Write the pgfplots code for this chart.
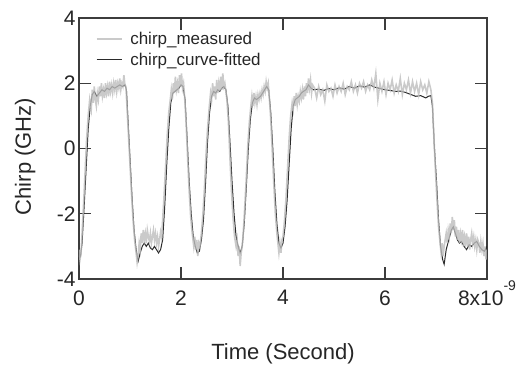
\documentclass[border=0pt]{standalone}
\usepackage{fontspec}
\setmainfont{Liberation Sans}
\usepackage{pgfplots}
\pgfplotsset{compat=1.18}
\definecolor{axgray}{HTML}{3C3C3C}
\definecolor{measgray}{HTML}{BDBDBD}
\definecolor{fitdark}{HTML}{2A2A2A}
\begin{document}
\begin{tikzpicture}
\path[use as bounding box] (-79bp,-90bp) rectangle (438bp,279bp);
\begin{axis}[
  at={(0,0)}, anchor=south west,
  scale only axis, width=408bp, height=261bp,
  xmin=0, xmax=8, ymin=-4, ymax=4,
  xtick={0,2,4,6,8}, ytick={-4,-2,0,2,4},
  xticklabels={0,2,4,6,{8x10\smash{\raisebox{15bp}{\fontsize{14bp}{14bp}\selectfont -9}}}},
  yticklabels={-4,-2,0,2,4},
  tick label style={font=\fontsize{21bp}{25bp}\selectfont, text=black!85},
  xticklabel style={yshift=-8bp},
  label style={font=\fontsize{22bp}{26bp}\selectfont, text=black!85},
  xlabel={Time (Second)},
  ylabel={Chirp (GHz)},
  xlabel style={at={(axis description cs:0.5,-0.310)}, anchor=base},
  ylabel style={at={(axis description cs:-0.132,0.469)}, anchor=center},
  axis line style={axgray, line width=1.5bp},
  major tick length=12bp,
  every tick/.style={axgray, line width=1.2bp},
  tick align=inside,
  legend style={at={(axis description cs:0.038,0.958)}, anchor=north west, draw=none, fill=none,
    font=\fontsize{17bp}{19bp}\selectfont, text=black!85, row sep=3bp, inner sep=1bp},
  legend cell align=left,
  legend image code/.code={\draw[#1] (0bp,0bp) -- (25bp,0bp); \path (31bp,0bp);},
]
\addplot[fitdark, line width=1bp, forget plot] coordinates {
(0.00,-3.2) (0.03,-3.3) (0.06,-2.9) (0.10,-1.8) (0.14,-0.6) (0.18,0.6) (0.22,1.3) (0.26,1.65)
(0.30,1.75) (0.35,1.6) (0.40,1.7) (0.45,1.8) (0.50,1.75) (0.55,1.85) (0.60,1.8) (0.65,1.9)
(0.70,1.85) (0.75,1.9) (0.80,1.95) (0.85,1.9) (0.90,1.95) (0.93,1.8) (0.96,0.9) (1.00,-0.3)
(1.04,-1.5) (1.08,-2.5) (1.12,-3.1) (1.16,-3.45) (1.20,-3.2) (1.24,-3.0) (1.28,-2.9) (1.32,-3.0)
(1.36,-2.9) (1.40,-3.05) (1.44,-3.1) (1.48,-3.0) (1.52,-3.1) (1.56,-3.2) (1.60,-3.1) (1.64,-2.8)
(1.68,-1.8) (1.72,-0.5) (1.76,0.6) (1.80,1.4) (1.84,1.7) (1.88,1.75) (1.92,1.8) (1.96,1.85)
(2.00,1.95) (2.04,1.9) (2.08,1.5) (2.12,0.3) (2.16,-1.0) (2.20,-2.0) (2.24,-2.7) (2.28,-3.0)
(2.32,-3.2) (2.36,-3.15) (2.40,-2.8) (2.44,-2.2) (2.48,-1.1) (2.52,0.2) (2.56,1.1) (2.60,1.6)
(2.64,1.75) (2.68,1.7) (2.72,1.8) (2.76,1.75) (2.80,1.85) (2.84,1.9) (2.88,1.8) (2.92,1.3)
(2.96,0.2) (3.00,-1.0) (3.04,-2.0) (3.08,-2.7) (3.12,-3.0) (3.16,-3.2) (3.20,-3.0) (3.24,-2.3)
(3.28,-1.2) (3.32,0.0) (3.36,0.9) (3.40,1.4) (3.44,1.55) (3.48,1.5) (3.52,1.55) (3.56,1.6)
(3.60,1.7) (3.64,1.8) (3.68,1.9) (3.72,1.8) (3.76,1.1) (3.80,0.0) (3.84,-1.3) (3.88,-2.3)
(3.92,-2.9) (3.96,-3.05) (4.00,-2.9) (4.04,-2.4) (4.08,-1.6) (4.12,-0.5) (4.16,0.6) (4.20,1.3)
(4.24,1.5) (4.28,1.55) (4.32,1.6) (4.36,1.7) (4.40,1.75) (4.45,1.8) (4.50,1.95) (4.55,1.85)
(4.60,1.8) (4.70,1.82) (4.80,1.78) (4.90,1.84) (5.00,1.8) (5.10,1.86) (5.20,1.82) (5.30,1.9)
(5.40,1.85) (5.50,1.92) (5.60,1.88) (5.70,1.95) (5.80,1.88) (5.90,1.84) (6.00,1.8) (6.10,1.78)
(6.20,1.75) (6.30,1.76) (6.40,1.72) (6.50,1.66) (6.60,1.6) (6.70,1.62) (6.80,1.55) (6.85,1.6)
(6.90,1.62) (6.93,1.3) (6.97,0.0) (7.01,-1.0) (7.05,-2.2) (7.09,-3.0) (7.13,-3.4) (7.16,-3.55)
(7.20,-3.1) (7.25,-2.8) (7.30,-2.5) (7.34,-2.4) (7.38,-2.6) (7.42,-2.8) (7.46,-2.9) (7.50,-2.85)
(7.55,-3.0) (7.60,-3.1) (7.65,-2.95) (7.70,-3.0) (7.75,-2.9) (7.80,-2.85) (7.85,-3.0) (7.90,-3.1)
(7.95,-3.15) (8.00,-3.0)
};
\addplot[measgray, line width=1.6bp, opacity=0.8] coordinates {
(0.00,-3.1) (0.02,-3.4) (0.04,-3.2) (0.06,-2.6) (0.09,-1.7) (0.12,-0.7) (0.15,0.3) (0.18,1.0)
(0.21,1.5) (0.24,1.2) (0.26,1.8) (0.28,1.4) (0.30,1.9) (0.32,1.5) (0.34,1.3) (0.36,1.7)
(0.38,1.5) (0.40,1.9) (0.42,1.6) (0.44,2.0) (0.46,1.6) (0.48,1.8) (0.50,1.55) (0.52,2.0)
(0.54,1.7) (0.56,1.9) (0.58,1.6) (0.60,2.05) (0.62,1.75) (0.64,1.95) (0.66,1.7) (0.68,2.0)
(0.70,1.8) (0.72,2.1) (0.74,1.75) (0.76,2.0) (0.78,1.85) (0.80,2.15) (0.82,1.8) (0.84,2.0)
(0.86,1.9) (0.88,2.25) (0.90,1.95) (0.92,1.9) (0.94,1.3) (0.97,0.4) (1.00,-0.5) (1.03,-1.4)
(1.06,-2.2) (1.09,-2.8) (1.12,-3.2) (1.14,-3.5) (1.16,-3.3) (1.18,-2.9) (1.20,-3.1) (1.22,-2.6)
(1.24,-2.9) (1.26,-2.5) (1.28,-2.8) (1.30,-2.6) (1.32,-2.9) (1.34,-2.5) (1.36,-2.7) (1.38,-2.85)
(1.40,-2.6) (1.42,-2.9) (1.44,-2.7) (1.46,-2.5) (1.48,-2.8) (1.50,-2.6) (1.52,-2.9) (1.54,-2.7)
(1.56,-3.0) (1.58,-2.8) (1.60,-2.55) (1.62,-2.7) (1.64,-2.2) (1.67,-1.4) (1.70,-0.5) (1.73,0.4)
(1.76,1.1) (1.79,1.5) (1.81,1.8) (1.83,1.5) (1.85,2.0) (1.87,1.7) (1.89,2.2) (1.91,1.8)
(1.93,2.0) (1.95,1.7) (1.97,2.25) (1.99,1.9) (2.01,2.3) (2.03,1.85) (2.05,2.0) (2.07,1.6)
(2.10,0.8) (2.13,-0.3) (2.16,-1.3) (2.19,-2.1) (2.22,-2.6) (2.25,-3.0) (2.27,-2.7) (2.29,-3.1)
(2.31,-2.8) (2.33,-3.3) (2.35,-2.9) (2.37,-3.0) (2.40,-2.6) (2.43,-2.0) (2.46,-1.2) (2.49,-0.2)
(2.52,0.6) (2.55,1.2) (2.58,1.7) (2.60,1.5) (2.62,2.0) (2.64,1.6) (2.66,1.9) (2.68,1.5)
(2.70,2.1) (2.72,1.7) (2.74,2.0) (2.76,1.75) (2.78,2.2) (2.80,1.8) (2.82,2.3) (2.84,1.9)
(2.86,2.0) (2.88,1.75) (2.90,1.5) (2.93,0.8) (2.96,-0.3) (2.99,-1.3) (3.02,-2.1) (3.05,-2.7)
(3.08,-3.0) (3.10,-2.8) (3.12,-3.3) (3.14,-3.0) (3.16,-3.6) (3.18,-3.2) (3.20,-3.0) (3.22,-2.6)
(3.25,-1.8) (3.28,-0.9) (3.31,0.1) (3.34,0.8) (3.37,1.3) (3.39,1.6) (3.41,1.3) (3.43,1.7)
(3.45,1.4) (3.47,1.6) (3.49,1.35) (3.51,1.65) (3.53,1.5) (3.55,1.7) (3.57,1.55) (3.59,1.8)
(3.61,1.65) (3.63,1.9) (3.65,1.75) (3.67,2.05) (3.69,1.85) (3.71,2.0) (3.73,1.6) (3.76,0.9)
(3.79,-0.1) (3.82,-1.1) (3.85,-2.0) (3.88,-2.6) (3.90,-2.9) (3.92,-3.2) (3.94,-2.9) (3.96,-3.2)
(3.98,-2.8) (4.00,-2.7) (4.03,-2.2) (4.06,-1.5) (4.09,-0.6) (4.12,0.3) (4.15,1.0) (4.18,1.4)
(4.20,1.2) (4.22,1.6) (4.24,1.3) (4.26,1.7) (4.28,1.35) (4.30,1.6) (4.32,1.45) (4.34,1.75)
(4.36,1.55) (4.38,1.8) (4.40,1.5) (4.42,1.9) (4.44,1.6) (4.46,2.0) (4.48,1.7) (4.50,2.15)
(4.52,1.85) (4.54,2.1) (4.56,1.7) (4.58,1.95) (4.62,1.85) (4.66,1.55) (4.70,1.9) (4.74,1.65)
(4.78,1.8) (4.82,1.45) (4.86,1.95) (4.90,1.75) (4.94,1.85) (4.98,1.6) (5.02,1.95) (5.06,1.7)
(5.10,1.9) (5.14,1.75) (5.18,2.0) (5.22,1.65) (5.26,1.9) (5.30,1.8) (5.34,2.05) (5.38,1.75)
(5.42,1.95) (5.46,1.7) (5.50,2.0) (5.54,1.85) (5.58,2.05) (5.62,1.75) (5.66,1.95) (5.70,1.8)
(5.74,2.1) (5.78,1.85) (5.82,2.3) (5.86,1.5) (5.90,2.0) (5.94,1.75) (5.98,2.05) (6.02,1.65)
(6.06,2.0) (6.10,1.8) (6.14,2.1) (6.18,1.7) (6.22,1.95) (6.26,1.75) (6.30,2.15) (6.34,1.65)
(6.38,2.0) (6.42,1.8) (6.46,2.1) (6.50,1.7) (6.54,2.05) (6.58,1.75) (6.62,2.0) (6.66,1.65)
(6.70,2.05) (6.74,1.8) (6.78,1.95) (6.82,1.7) (6.86,2.05) (6.90,1.8) (6.93,1.4) (6.96,0.3)
(6.99,-0.7) (7.02,-1.6) (7.05,-2.4) (7.08,-2.9) (7.10,-3.2) (7.12,-2.9) (7.14,-3.3) (7.16,-3.0)
(7.18,-2.8) (7.20,-2.6) (7.22,-2.9) (7.24,-2.5) (7.26,-2.7) (7.28,-2.3) (7.30,-2.6) (7.32,-2.1)
(7.34,-2.5) (7.36,-2.2) (7.38,-2.7) (7.40,-2.4) (7.42,-2.8) (7.44,-2.5) (7.46,-2.9) (7.48,-2.6)
(7.50,-2.8) (7.52,-2.5) (7.54,-3.0) (7.56,-2.7) (7.58,-2.9) (7.60,-2.6) (7.62,-3.0) (7.64,-2.7)
(7.66,-3.1) (7.68,-2.8) (7.70,-2.6) (7.72,-2.9) (7.74,-2.7) (7.76,-3.0) (7.78,-2.8) (7.80,-3.1)
(7.82,-2.8) (7.84,-2.9) (7.86,-3.2) (7.88,-2.85) (7.90,-3.1) (7.92,-2.9) (7.94,-3.3) (7.96,-3.0)
(7.98,-3.4) (8.00,-3.1)
};
\addlegendentry{chirp\_measured}
\addlegendimage{fitdark, line width=1bp}
\addlegendentry{chirp\_curve-fitted}
\end{axis}
\end{tikzpicture}
\end{document}
